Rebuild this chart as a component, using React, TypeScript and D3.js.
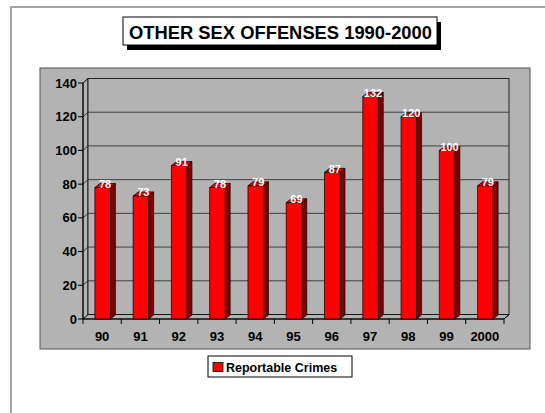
import React from "react";
import * as d3 from "d3";

const years = ["90", "91", "92", "93", "94", "95", "96", "97", "98", "99", "2000"];
const crimes = [78, 73, 91, 78, 79, 69, 87, 132, 120, 100, 79];
const yTicks = [0, 20, 40, 60, 80, 100, 120, 140];
const seriesName = "Reportable Crimes";
const title = "OTHER SEX OFFENSES 1990-2000";

const W = 545;
const H = 413;
const FONT = "Arial, 'Liberation Sans', sans-serif";

// 3d depth offsets
const DX = 5;
const DY = 4.5;
const BDX = 5;
const BDY = 4;

const App = () => {
  // scales
  const x = d3.scaleBand().domain(years).range([83, 504]).padding(0);
  const y = d3.scaleLinear().domain([0, 140]).range([319, 83]);

  const left = x.range()[0];
  const right = x.range()[1];
  const y0 = y(0);
  const yTop = y(140);
  const barOff = x.bandwidth() * 0.31;
  const barW = 15.5;

  const pts = (a: number[][]) => a.map((p) => p.join(",")).join(" ");

  return (
    <svg
      width={W}
      height={H}
      style={{ position: "absolute", left: 0, top: 0, background: "#fff" }}
      fontFamily={FONT}
    >
      {/* outer frame, only top/left visible */}
      <rect x={11} y={7} width={600} height={500} fill="#fff" stroke="#888" strokeWidth={1.5} />

      {/* title box */}
      <rect x={127} y={22} width={314} height={28} fill="#000" />
      <rect x={123} y={17} width={314} height={28} fill="#fff" stroke="#000" strokeWidth={1} />
      <text
        x={129}
        y={38.5}
        fontSize={18}
        fontWeight="bold"
        fill="#000"
        textLength={303}
        lengthAdjust="spacingAndGlyphs"
      >
        {title}
      </text>

      {/* chart area */}
      <rect x={40} y={68} width={490} height={281} fill="#b3b3b3" stroke="#555" strokeWidth={1} />

      {/* walls */}
      <polygon
        points={pts([[left, y0], [left + DX, y0 - DY], [right + DX, y0 - DY], [right, y0]])}
        fill="#b3b3b3"
        stroke="#000"
        strokeWidth={0.8}
      />
      <polygon
        points={pts([[left, y0], [left + DX, y0 - DY], [left + DX, yTop - DY], [left, yTop]])}
        fill="#b3b3b3"
        stroke="#000"
        strokeWidth={0.8}
      />
      <rect
        x={left + DX}
        y={yTop - DY}
        width={right - left}
        height={y0 - yTop}
        fill="#b3b3b3"
        stroke="#000"
        strokeWidth={0.8}
      />

      {/* gridlines */}
      {yTicks.slice(1).map((t) => (
        <g key={t}>
          <line x1={left} y1={y(t)} x2={left + DX} y2={y(t) - DY} stroke="#222" strokeWidth={0.8} />
          <line x1={left + DX} y1={y(t) - DY} x2={right + DX} y2={y(t) - DY} stroke="#222" strokeWidth={0.8} />
        </g>
      ))}

      {/* y axis */}
      <line x1={left} y1={y0} x2={left} y2={yTop} stroke="#000" strokeWidth={1} />
      {yTicks.map((t) => (
        <g key={t}>
          <line x1={left - 5} y1={y(t)} x2={left} y2={y(t)} stroke="#000" strokeWidth={1} />
          <text x={left - 6} y={y(t) + 4.5} textAnchor="end" fontSize={13} fontWeight="bold">
            {t}
          </text>
        </g>
      ))}

      {/* x axis */}
      <line x1={left} y1={y0} x2={right} y2={y0} stroke="#000" strokeWidth={1} />
      {[...years.map((c) => x(c) as number), right].map((v, i) => (
        <line key={i} x1={v} y1={y0} x2={v} y2={y0 + 5} stroke="#000" strokeWidth={1} />
      ))}
      <line x1={right} y1={y0} x2={right + DX} y2={y0 - DY} stroke="#000" strokeWidth={1} />
      {years.map((c) => (
        <text
          key={c}
          x={(x(c) as number) + x.bandwidth() / 2}
          y={y0 + 22}
          textAnchor="middle"
          fontSize={13}
          fontWeight="bold"
        >
          {c}
        </text>
      ))}

      {/* bars */}
      {years.map((c, i) => {
        const bx = (x(c) as number) + barOff;
        const yt = y(crimes[i]);
        return (
          <g key={c} stroke="#000" strokeWidth={0.7} strokeLinejoin="round">
            <polygon
              points={pts([[bx + barW, yt], [bx + barW + BDX, yt - BDY], [bx + barW + BDX, y0 - BDY], [bx + barW, y0]])}
              fill="#800000"
            />
            <polygon
              points={pts([[bx, yt], [bx + BDX, yt - BDY], [bx + barW + BDX, yt - BDY], [bx + barW, yt]])}
              fill="#e00000"
            />
            <rect x={bx} y={yt} width={barW} height={y0 - yt} fill="#ff0000" />
            <text
              x={bx + (barW + BDX) / 2}
              y={yt + 0.5}
              textAnchor="middle"
              fontSize={11}
              fontWeight="bold"
              fill="#fff"
              stroke="none"
            >
              {crimes[i]}
            </text>
          </g>
        );
      })}

      {/* legend */}
      <rect x={208} y={356} width={144} height={21} fill="#fff" stroke="#000" strokeWidth={1} />
      <rect x={213} y={362.5} width={10} height={9} fill="#ff0000" stroke="#000" strokeWidth={0.8} />
      <text x={226} y={371.5} fontSize={12.5} fontWeight="bold">
        {seriesName}
      </text>
    </svg>
  );
};

export default App;
